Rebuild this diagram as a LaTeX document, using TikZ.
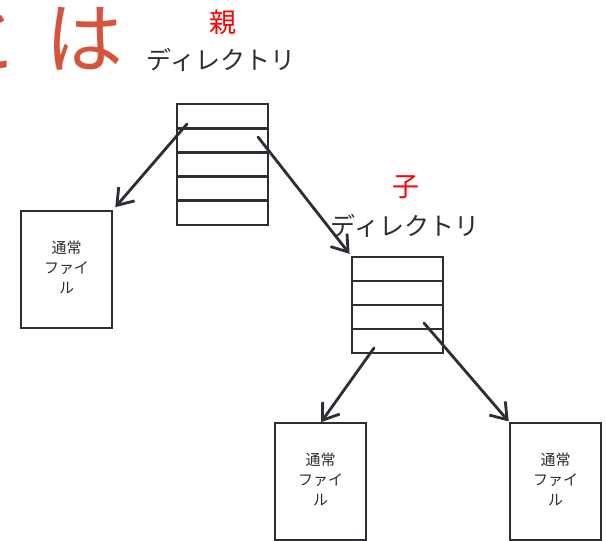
\documentclass[tikz,border=0pt]{standalone}
\usepackage{fontspec}
\setmainfont{Noto Sans CJK JP}
\usetikzlibrary{arrows.meta,calc}
\definecolor{ink}{RGB}{45,45,52}
\definecolor{titlecol}{RGB}{213,85,60}
\definecolor{lblred}{RGB}{255,0,0}
\newcommand{\filetxt}{\raisebox{-3pt}{\begin{tabular}{@{}c@{}}通常\\ファイ\\ル\end{tabular}}}
\tikzset{
  dline/.style={draw=ink, line width=2.8pt},
  dirbox/.style={dline, rectangle, anchor=north west, minimum width=91pt, inner sep=0pt, outer sep=0pt},
  filebox/.style={dline, rectangle, anchor=north west, minimum width=91pt, minimum height=117pt, inner sep=0pt, outer sep=0pt, font=\fontsize{15}{20}\selectfont, text=ink},
  ptr/.style={draw=ink, line width=2.8pt, line cap=round, -{Straight Barb[length=15pt,width=21pt,line width=2.8pt]}},
  biglbl/.style={font=\fontsize{25}{28}\selectfont, text=ink, inner sep=0pt},
  redlbl/.style={font=\fontsize{27}{30}\selectfont, text=lblred, inner sep=0pt},
  titletext/.style={font=\fontsize{78}{84}\selectfont, text=titlecol, inner sep=0pt}
}
\begin{document}
\begin{tikzpicture}[x=1pt,y=-1pt]
\useasboundingbox (0,0) rectangle (606,541);
\fill[white] (0,0) rectangle (606,541);
% title fragment
\node[titletext, anchor=base east] (ttl1) at (20,67) {と};
\node[titletext, anchor=base west] (ttl2) at (45,67) {は};
% labels
\node[redlbl] (oya) at (223,22) {親};
\node[biglbl] (dir1) at (221,60) {ディレクトリ};
\node[redlbl] (ko) at (406,187) {子};
\node[biglbl] (dir2) at (405,226) {ディレクトリ};
% parent directory
\node[dirbox, minimum height=121pt] (pd) at (177,104) {};
\foreach \i in {1,...,4}
  \draw[dline] ($(pd.north west)!\i/5!(pd.south west)$) -- ($(pd.north east)!\i/5!(pd.south east)$);
% child directory
\node[dirbox, minimum height=96pt] (cd) at (352,257) {};
\foreach \i in {1,...,3}
  \draw[dline] ($(cd.north west)!\i/4!(cd.south west)$) -- ($(cd.north east)!\i/4!(cd.south east)$);
% files
\node[filebox] (f1) at (21,211) {\filetxt};
\node[filebox] (f2) at (275,423) {\filetxt};
\node[filebox] (f3) at (510,423) {\filetxt};
% pointer origins
\coordinate (p1) at ($(pd.north west)+(10,20)$);
\coordinate (p2) at ($(pd.north east)+(-10,33)$);
\coordinate (p3) at ($(cd.south west)+(22,-5)$);
\coordinate (p4) at ($(cd.north east)+(-19,66)$);
% connectors
\draw[ptr, shorten >=5pt] (p1) -- (f1.north east);
\draw[ptr, shorten >=4pt] (p2) -- (cd.north west);
\draw[ptr, shorten >=1pt] (p3) -- (f2.north);
\draw[ptr, shorten >=2pt] (p4) -- (f3.north west);
\end{tikzpicture}
\end{document}
